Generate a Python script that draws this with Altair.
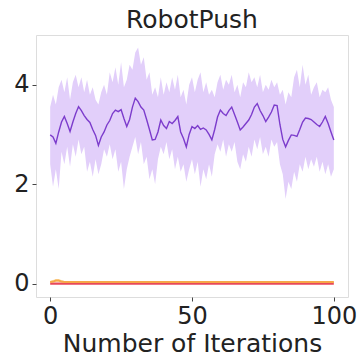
import altair as alt
import pandas as pd

iterations = list(range(101))

robot_mean = [
    2.99, 2.95, 2.82, 3.05, 3.25, 3.36, 3.22, 3.06, 3.25, 3.42,
    3.56, 3.48, 3.38, 3.30, 3.24, 3.10, 2.98, 2.78, 2.95, 3.05,
    3.19, 3.28, 3.42, 3.49, 3.46, 3.50, 3.32, 3.16, 3.30, 3.55,
    3.73, 3.66, 3.55, 3.49, 3.30, 3.10, 2.89, 2.90, 3.05, 3.29,
    3.18, 3.12, 3.26, 3.22, 3.28, 3.36, 3.05, 2.92, 2.75, 3.00,
    3.16, 3.12, 3.18, 3.10, 3.13, 3.09, 3.00, 2.89, 3.10, 3.35,
    3.49, 3.42, 3.38, 3.48, 3.55, 3.40, 3.25, 3.09, 3.15, 3.22,
    3.29, 3.40, 3.55, 3.62, 3.48, 3.38, 3.26, 3.35, 3.45, 3.59,
    3.58, 3.20, 2.90, 2.75, 2.88, 2.99, 2.98, 2.96, 3.10, 3.25,
    3.33, 3.32, 3.30, 3.25, 3.20, 3.16, 3.25, 3.36, 3.22, 3.05,
    2.89,
]

robot_upper = [
    3.55, 3.80, 3.60, 3.95, 4.10, 3.85, 4.15, 3.70, 4.05, 4.20,
    3.95, 4.15, 3.85, 4.10, 3.80, 3.95, 3.70, 3.60, 3.85, 4.00,
    3.80, 4.25, 4.05, 4.35, 4.00, 4.45, 3.95, 4.10, 4.40, 4.30,
    4.65, 4.75, 4.40, 4.55, 4.10, 4.25, 3.80, 3.95, 3.75, 4.15,
    3.80, 4.05, 3.85, 4.15, 3.90, 4.20, 3.75, 3.90, 3.60, 4.00,
    4.15, 3.85, 4.10, 4.25, 3.85, 4.05, 3.80, 3.90, 3.75, 4.05,
    4.20, 3.90, 4.10, 4.00, 4.20, 3.85, 4.00, 3.75, 4.05, 3.95,
    4.25, 4.05, 4.15, 3.95, 4.20, 3.85, 4.00, 3.90, 4.10, 3.95,
    4.05, 3.80, 3.90, 3.60, 3.85, 3.75, 4.15, 4.30, 3.95, 4.40,
    4.00, 4.20, 3.80, 3.95, 4.05, 3.75, 3.90, 3.85, 3.95, 3.70,
    3.55,
]

robot_lower = [
    2.40, 1.95, 2.30, 1.90, 2.65, 2.40, 2.75, 2.35, 2.80, 2.55,
    2.90, 2.60, 2.75, 2.25, 2.45, 2.15, 2.50, 2.20, 2.40, 2.70,
    2.55, 2.80, 2.50, 2.70, 2.25, 2.45, 1.90, 2.30, 2.55, 2.75,
    2.95, 2.60, 2.85, 2.40, 2.55, 2.10, 2.30, 2.00, 2.50, 2.75,
    2.60, 2.85, 2.50, 2.70, 2.30, 2.55, 2.25, 2.40, 2.05, 2.30,
    2.50, 2.20, 2.45, 1.95, 2.30, 2.10, 2.40, 2.15, 2.60, 2.80,
    2.65, 2.90, 2.55, 2.80, 2.65, 2.85, 2.45, 2.30, 2.60, 2.45,
    2.75, 2.55, 2.90, 2.70, 2.95, 2.60, 2.75, 2.55, 2.90, 2.75,
    2.85, 2.40, 2.20, 1.70, 2.05, 1.90, 2.25, 2.05, 2.40, 2.25,
    2.55, 2.30, 2.50, 2.35, 2.55, 2.25, 2.45, 2.20, 2.40, 2.15,
    2.30,
]

# Baselines that stay close to zero
base_x = [0, 1, 2, 3, 4, 5, 10, 20, 30, 40, 50, 60, 70, 80, 90, 100]
orange_mean = [0.03, 0.04, 0.06, 0.06, 0.04, 0.03, 0.03, 0.03, 0.03, 0.03, 0.03, 0.03, 0.03, 0.03, 0.03, 0.03]
orange_upper = [0.05, 0.07, 0.09, 0.09, 0.07, 0.05, 0.05, 0.05, 0.05, 0.05, 0.05, 0.05, 0.05, 0.05, 0.05, 0.05]
orange_lower = [0.01, 0.02, 0.03, 0.03, 0.02, 0.01, 0.01, 0.01, 0.01, 0.01, 0.01, 0.01, 0.01, 0.01, 0.01, 0.01]
red_mean = [0.0] * len(base_x)

robot = pd.DataFrame({"it": iterations, "mean": robot_mean, "lo": robot_lower, "hi": robot_upper})
base = pd.DataFrame({"it": base_x, "o": orange_mean, "olo": orange_lower, "ohi": orange_upper, "r": red_mean})

x_scale = alt.Scale(domain=[-5, 105], nice=False, zero=False)
y_scale = alt.Scale(domain=[-0.27, 5.0], nice=False, zero=False)

x_axis = alt.Axis(values=[0, 50, 100], title="Number of Iterations", grid=False,
                  labelFontSize=24, titleFontSize=25, titleFontWeight="normal",
                  labelColor="#222", titleColor="#222", tickColor="#444", domain=False,
                  tickSize=4, labelPadding=3, titlePadding=3)
y_axis = alt.Axis(values=[0, 2, 4], title=None, grid=False, labelFontSize=24,
                  labelColor="#222", tickColor="#444", domain=False, tickSize=4,
                  labelPadding=3)

band = alt.Chart(robot).mark_area(color="#e2cffa", opacity=1).encode(
    x=alt.X("it:Q", scale=x_scale, axis=x_axis),
    y=alt.Y("lo:Q", scale=y_scale, axis=y_axis),
    y2="hi:Q",
)
line = alt.Chart(robot).mark_line(color="#7c3ccc", strokeWidth=1.4).encode(
    x=alt.X("it:Q", scale=x_scale),
    y=alt.Y("mean:Q", scale=y_scale),
)
o_band = alt.Chart(base).mark_area(color="#fdd98f", opacity=0.7).encode(
    x=alt.X("it:Q", scale=x_scale),
    y=alt.Y("olo:Q", scale=y_scale),
    y2="ohi:Q",
)
red_line = alt.Chart(base).mark_line(color="#e8485a", strokeWidth=2.2).encode(
    x=alt.X("it:Q", scale=x_scale),
    y=alt.Y("r:Q", scale=y_scale),
)
o_line = alt.Chart(base).mark_line(color="#f5a848", strokeWidth=2).encode(
    x=alt.X("it:Q", scale=x_scale),
    y=alt.Y("o:Q", scale=y_scale),
)

chart = alt.layer(band, line, o_band, red_line, o_line).properties(
    width=312,
    height=262,
    autosize=alt.AutoSizeParams(type="none"),
    padding={"left": 36, "top": 35, "right": 11, "bottom": 62},
    title=alt.TitleParams("RobotPush", fontSize=25, fontWeight="normal", color="#222",
                          anchor="middle", offset=2),
).configure_view(
    stroke="#444", strokeWidth=1
).configure(
    font="DejaVu Sans", background="white"
)

chart.save("out.html", embed_options={"renderer": "svg", "actions": False})
